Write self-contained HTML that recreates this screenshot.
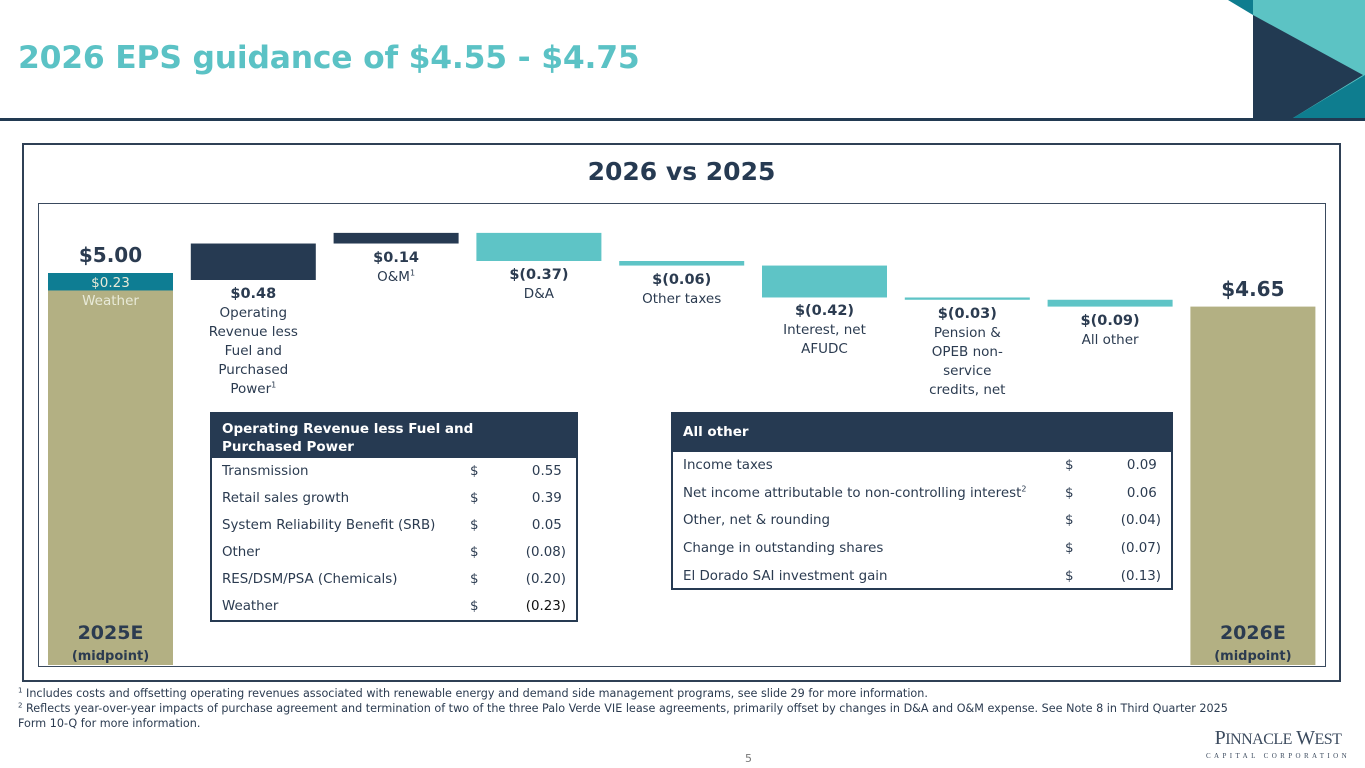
<!DOCTYPE html>
<html><head><meta charset="utf-8">
<style>
*{margin:0;padding:0;box-sizing:border-box}
body{width:1365px;height:768px;background:#fff;position:relative;overflow:hidden;font-family:"DejaVu Sans","Liberation Sans",sans-serif;color:#2a3a4e}
.abs{position:absolute}
sup{line-height:0;vertical-align:super}
.lbl{position:absolute;text-align:center;font-size:13.5px;line-height:19px;color:#2b3b50;width:150px}
.lbl b{font-size:14.5px}
.tbl{position:absolute;border:2px solid #263a52;font-size:13.4px;color:#2b3b50;white-space:nowrap}
.tbl .hd{background:#263a52;color:#fff;font-weight:bold;padding:6px 10px;line-height:18px;font-size:13.5px}
.row{display:flex;align-items:center;padding:0 10px}
.row .n{flex:1}.row .d{width:40px}.row .v{width:56px;text-align:right}
</style></head><body>
<div class="abs" style="left:18px;top:40px;font-size:31.4px;font-weight:bold;color:#5bc2c5;letter-spacing:-0.2px;white-space:nowrap">2026 EPS guidance of $4.55 - $4.75</div>
<svg class="abs" style="left:0;top:0" width="1365" height="125">
<polygon points="1228,0 1253,0 1253,15" fill="#0e7d8f"/>
<rect x="1253" y="0" width="112" height="118" fill="#5cc3c4"/>
<polygon points="1253,15 1363,75 1293,118 1253,118" fill="#223a52"/>
<polygon points="1293,118 1365,75 1365,118" fill="#0e7d8f"/>
<rect x="0" y="118" width="1365" height="3" fill="#223a52"/>
</svg>
<div class="abs" style="left:22px;top:143px;width:1319px;height:539px;border:2px solid #2f4055"></div>
<div class="abs" style="left:22px;top:157px;width:1319px;text-align:center;font-size:25px;font-weight:bold;color:#263a52">2026 vs 2025</div>
<div class="abs" style="left:38px;top:203px;width:1288px;height:464px;border:1px solid #3a4a5e"></div>
<svg id="chart" class="abs" style="left:0;top:0" width="1365" height="768"></svg>
<div id="labels"></div>

<div class="tbl" style="left:210px;top:412px;width:368px;height:210px">
<div class="hd" style="height:44px">Operating Revenue less Fuel and<br>Purchased Power</div>
<div class="row" style="height:27px"><span class="n">Transmission</span><span class="d">$</span><span class="v">0.55&nbsp;</span></div>
<div class="row" style="height:27px"><span class="n">Retail sales growth</span><span class="d">$</span><span class="v">0.39&nbsp;</span></div>
<div class="row" style="height:27px"><span class="n">System Reliability Benefit (SRB)</span><span class="d">$</span><span class="v">0.05&nbsp;</span></div>
<div class="row" style="height:27px"><span class="n">Other</span><span class="d">$</span><span class="v">(0.08)</span></div>
<div class="row" style="height:27px"><span class="n">RES/DSM/PSA (Chemicals)</span><span class="d">$</span><span class="v">(0.20)</span></div>
<div class="row" style="height:27px"><span class="n">Weather</span><span class="d">$</span><span class="v" style="color:#111">(0.23)</span></div>
</div>
<div class="tbl" style="left:671px;top:412px;width:502px;height:178px">
<div class="hd" style="height:38px;padding-top:9px">All other</div>
<div class="row" style="height:27.6px"><span class="n">Income taxes</span><span class="d">$</span><span class="v">0.09&nbsp;</span></div>
<div class="row" style="height:27.6px"><span class="n">Net income attributable to non-controlling interest<sup style="font-size:8px">2</sup></span><span class="d">$</span><span class="v">0.06&nbsp;</span></div>
<div class="row" style="height:27.6px"><span class="n">Other, net &amp; rounding</span><span class="d">$</span><span class="v">(0.04)</span></div>
<div class="row" style="height:27.6px"><span class="n">Change in outstanding shares</span><span class="d">$</span><span class="v">(0.07)</span></div>
<div class="row" style="height:27.6px"><span class="n">El Dorado SAI investment gain</span><span class="d">$</span><span class="v">(0.13)</span></div>
</div>

<div class="abs" style="left:18px;top:686px;font-size:11.2px;line-height:15px;color:#2b3b50;width:1240px">
<div><sup style="font-size:7px">1</sup> Includes costs and offsetting operating revenues associated with renewable energy and demand side management programs, see slide 29 for more information.</div>
<div><sup style="font-size:7px">2</sup> Reflects year-over-year impacts of purchase agreement and termination of two of the three Palo Verde VIE lease agreements, primarily offset by changes in D&amp;A and O&amp;M expense. See Note 8 in Third Quarter 2025 Form 10-Q for more information.</div>
</div>
<div class="abs" style="left:745px;top:752px;font-size:11px;color:#777">5</div>
<div class="abs" style="left:1198px;top:728px;width:160px;text-align:center;font-family:'Liberation Serif',serif;color:#3b4a5e;white-space:nowrap">
<div style="font-size:20px;line-height:20px;letter-spacing:-0.5px">P<span style="font-size:16px">INNACLE</span> W<span style="font-size:16px">EST</span></div>
<div style="font-size:7px;letter-spacing:3.4px;line-height:12px">CAPITAL CORPORATION</div>
</div>

<script>
const categories=["2025E","Operating Revenue less Fuel and Purchased Power","O&M","D&A","Other taxes","Interest, net AFUDC","Pension & OPEB non-service credits, net","All other","2026E"];
const startValue=5.00;
const weatherValue=0.23;
const deltas=[0.48,0.14,-0.37,-0.06,-0.42,-0.03,-0.09];
const valueLabels=["$5.00","$0.48","$0.14","$(0.37)","$(0.06)","$(0.42)","$(0.03)","$(0.09)","$4.65"];
const catLabels=["","Operating<br>Revenue less<br>Fuel and<br>Purchased<br>Power<sup style='font-size:8px'>1</sup>","O&amp;M<sup style='font-size:8px'>1</sup>","D&amp;A","Other taxes","Interest, net<br>AFUDC","Pension &amp;<br>OPEB non-<br>service<br>credits, net","All other",""];

const PX=76, Y0=280, BASE=665, BW=125, X0=48, STEP=142.8;
const y=v=>Y0+(startValue-v)*PX;
const x=i=>X0+i*STEP;
const svg=document.getElementById('chart');
const NS='http://www.w3.org/2000/svg';
function rect(x1,y1,w,h,fill,name){const r=document.createElementNS(NS,'rect');r.setAttribute('x',x1);r.setAttribute('y',y1);r.setAttribute('width',w);r.setAttribute('height',Math.max(h,2));r.setAttribute('fill',fill);


svg.appendChild(r);return r;}
const lab=document.getElementById('labels');
function text(html,cx,top,name,style){const d=document.createElement('div');d.className='lbl';d.style.left=(cx-75)+'px';d.style.top=top+'px';if(style)d.style.cssText+=style;d.innerHTML=html;


lab.appendChild(d);}
const wTop=y(startValue)-7;
const wBot=wTop+weatherValue*PX;
rect(x(0),wBot,BW,BASE-wBot,'#b3b083','bar-2025e');
rect(x(0),wTop,BW,wBot-wTop,'#0e7d93','bar-weather');
text(valueLabels[0],x(0)+BW/2,wTop-30,'value-2025e','font-size:20px;font-weight:bold;line-height:24px');
text('$0.23<br>Weather',x(0)+BW/2,wTop+1,'weather-label','color:#e8ead8;font-size:13.5px;line-height:18px');
text('2025E<br><span style="font-size:13px">(midpoint)</span>',x(0)+BW/2,BASE-42,'label-2025e','font-size:19px;font-weight:bold;line-height:21px');
let cum=startValue;
deltas.forEach((d,k)=>{const i=k+1;const a=cum,b=cum+d;cum=b;
 const top=y(Math.max(a,b)),bot=y(Math.min(a,b));
 rect(x(i),top,BW,bot-top,d>=0?'#263a52':'#5ec4c6','bar-'+i);
 text('<b>'+valueLabels[i]+'</b><br>'+catLabels[i],x(i)+BW/2,bot+5,'label-'+i);
});
const eTop=y(cum);
rect(x(8),eTop,BW,BASE-eTop,'#b3b083','bar-2026e');
text(valueLabels[8],x(8)+BW/2,eTop-30,'value-2026e','font-size:20px;font-weight:bold;line-height:24px');
text('2026E<br><span style="font-size:13px">(midpoint)</span>',x(8)+BW/2,BASE-42,'label-2026e','font-size:19px;font-weight:bold;line-height:21px');
</script>
</body></html>
